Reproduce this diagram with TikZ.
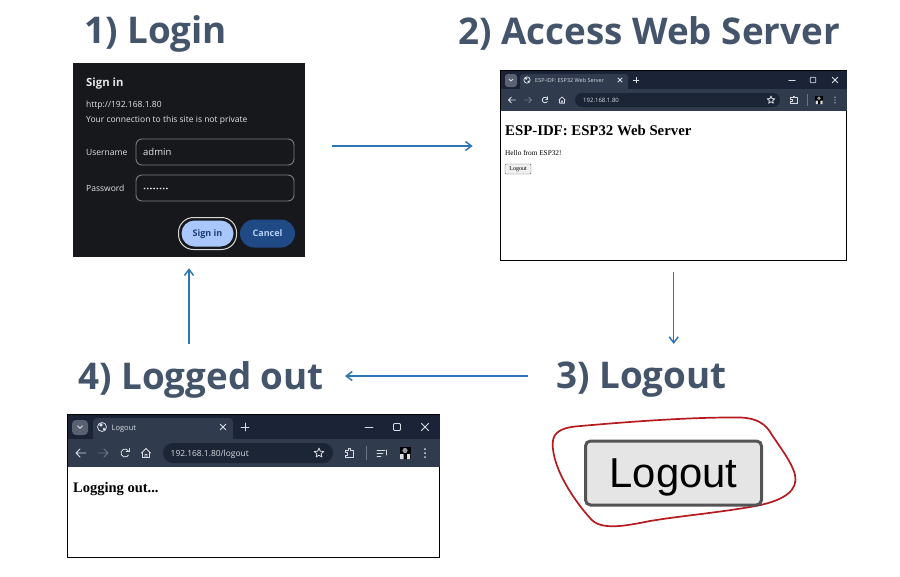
\documentclass[tikz,border=0pt]{standalone}
\usepackage{fontspec}
\setmainfont{Open Sans}
\newfontfamily\serifweb{Liberation Serif}
\newfontfamily\arialface{Liberation Sans}
\usetikzlibrary{arrows.meta}
\definecolor{titlecol}{HTML}{44546A}
\definecolor{flowcol}{HTML}{2E75B6}
\definecolor{stripcol}{HTML}{1B2436}
\definecolor{barcol}{HTML}{303B4E}
\definecolor{pillcol}{HTML}{1C2536}
\definecolor{iconcol}{HTML}{D8DCE3}
\definecolor{dimcol}{HTML}{6C7686}
\definecolor{panelcol}{HTML}{17181C}
\definecolor{edgecol}{HTML}{7A7C80}
\definecolor{loopcol}{HTML}{B51A1F}
\definecolor{signfill}{HTML}{A9C7FA}
\definecolor{signtext}{HTML}{1D3F73}
\definecolor{cancelfill}{HTML}{1F4A85}
\definecolor{canceltext}{HTML}{B8D0F5}
\tikzset{
  x=1pt,y=-1pt,
  title/.style={anchor=base west,inner sep=0pt,text=titlecol,font=\fontsize{36.8}{37}\selectfont\bfseries},
  flow/.style={draw=flowcol,line width=1.5pt,-{Straight Barb[length=6pt,width=9pt,line width=1.5pt]}},
  txt/.style={anchor=base west,inner sep=0pt},
  paneltxt/.style={txt,text=white!90!black,font=\fontsize{8.5}{9}\selectfont},
  inputbox/.style={draw=edgecol,line width=.9pt,fill=panelcol,rounded corners=6pt},
  ico/.style={draw=iconcol,line width=.8pt,fill=none,line cap=round,line join=round},
  pics/back/.style={code={\draw[ico,#1] (5,0)--(-5,0) (-1,-4)--(-5,0)--(-1,4);}},
  pics/closex/.style={code={\draw[ico,#1] (-3.5,-3.5)--(3.5,3.5) (-3.5,3.5)--(3.5,-3.5);}},
  pics/plusmark/.style={code={\draw[ico,#1] (-4,0)--(4,0) (0,-4)--(0,4);}},
  pics/minmark/.style={code={\draw[ico,#1] (-4,0)--(4,0);}},
  pics/maxmark/.style={code={\draw[ico,#1,rounded corners=1pt] (-3.5,-3.5) rectangle (3.5,3.5);}},
  pics/caret/.style={code={\draw[ico,#1] (-2.5,-1.2)--(0,1.3)--(2.5,-1.2);}},
  pics/globe/.style={code={\draw[ico,#1] (0,0) circle[radius=4.5pt]; \fill[iconcol] (-1,-2) circle[radius=1.8pt] (2,2) circle[radius=1.3pt];}},
  pics/reload/.style={code={\draw[ico,#1] (3.46,-2) arc[start angle=30,end angle=330,radius=4pt]; \draw[ico,#1] (4,-4.5)--(4,-1.5)--(1,-1.5);}},
  pics/home/.style={code={\draw[ico,#1] (-4.5,0)--(0,-4.5)--(4.5,0) (-3.5,-1)--(-3.5,4.5)--(3.5,4.5)--(3.5,-1) (-1,4.5)--(-1,1.5)--(1,1.5)--(1,4.5);}},
  pics/starmark/.style={code={\draw[ico,#1] (0,-5)--(1.3,-1.8)--(4.8,-1.5)--(2.1,.7)--(2.9,4)--(0,2.2)--(-2.9,4)--(-2.1,.7)--(-4.8,-1.5)--(-1.3,-1.8)--cycle;}},
  pics/ext/.style={code={\draw[ico,#1] (-4,-3)--(-1,-3)--(-1,-5)--(1,-5)--(1,-3)--(4,-3)--(4,4.5)--(-4,4.5)--(-4,2)--(-2,2)--(-2,-.5)--(-4,-.5)--cycle;}},
  pics/queue/.style={code={\draw[ico,#1] (-5,-3)--(3,-3) (-5,0)--(1,0) (-5,3)--(-1,3) (4,-3)--(4,2);}},
  pics/avatar/.style={code={\fill[black] (-5.5,-6) rectangle (5.5,6); \fill[iconcol!70!black] (0,-2.5) circle[radius=2.6pt]; \fill[iconcol] (-5,1) rectangle (-1.5,6) (2,1) rectangle (5,6);}},
  pics/menudots/.style={code={\fill[iconcol] (0,-4) circle[radius=1pt] (0,0) circle[radius=1pt] (0,4) circle[radius=1pt];}},
}
\begin{document}
\begin{tikzpicture}
\useasboundingbox (0,0) rectangle (900,576);
% titles
\node[title] (t1) at (84,43) {1) Login};
\node[title] (t2) at (458,44) {2) Access Web Server};
\node[title] (t3) at (556,388) {3) Logout};
\node[title] (t4) at (78,389) {4) Logged out};
\coordinate (above3) at (673.7,344);
\coordinate (left3) at (528,376);
\coordinate (right4) at (345,376);
\coordinate (above4) at (189,344);
% ---- login panel
\node[fill=panelcol,minimum width=232pt,minimum height=194pt,inner sep=0pt] (login) at (189,160) {};
\node[paneltxt,font=\fontsize{11.3}{11}\selectfont\bfseries] (signtitle) at (86,86) {Sign in};
\node[paneltxt] (url) at (86,107) {http://192.168.1.80};
\node[paneltxt] (warn) at (86,122.5) {Your connection to this site is not private};
\node[paneltxt] (userlab) at (86,155) {Username};
\node[paneltxt] (passlab) at (86,191) {Password};
\node[inputbox,minimum width=158pt,minimum height=26pt,inner sep=0pt] (userbox) at (215,152) {};
\node[inputbox,minimum width=158pt,minimum height=26pt,inner sep=0pt] (passbox) at (215,188) {};
\node[paneltxt,font=\fontsize{9.5}{10}\selectfont] (userval) at (143,155) {admin};
\foreach \i in {0,...,7} \fill[white!90!black] (144.5+\i*3.2,188.5) circle[radius=.95pt];
\node[draw=white!85!black,line width=1pt,fill=panelcol,rounded corners=15pt,minimum width=58pt,minimum height=32pt,inner sep=0pt] (signring) at (207.5,233.5) {};
\node[rounded corners=13pt,minimum width=52pt,minimum height=26pt,inner sep=0pt,fill=signfill,text=signtext,font=\fontsize{9}{9}\selectfont\bfseries,text depth=0pt,text height=5.5pt] (signbtn) at (207.5,233.5) {Sign in};
\node[rounded corners=14pt,minimum width=55pt,minimum height=28pt,inner sep=0pt,fill=cancelfill,text=canceltext,font=\fontsize{9}{9}\selectfont\bfseries,text depth=0pt,text height=5.5pt] (cancelbtn) at (267.5,233.5) {Cancel};
% ---- server browser
\node[draw=black,line width=1pt,fill=white,minimum width=346pt,minimum height=190pt,inner sep=0pt] (server) at (673.7,165.7) {};
\fill[stripcol] (501,71) rectangle (847,89);
\fill[barcol] (501,89) rectangle (847,111);
\fill[barcol,rounded corners=3pt] (520,74) rectangle (628,92);
\fill[barcol!80!white,rounded corners=3pt] (505,74) rectangle (517,87);
\fill[pillcol,rounded corners=7pt] (575,93) rectangle (780,107);
\pic[scale=.8] at (511,80) {caret};
\pic[scale=.7] at (527,80) {globe};
\node[txt,text=iconcol,font=\fontsize{5.5}{6}\selectfont] (servertab) at (535,82) {ESP-IDF: ESP32 Web Server};
\pic[scale=.6] at (620,80) {closex};
\pic[scale=.7] at (636,80) {plusmark};
\pic[scale=.8] at (792,80) {minmark};
\pic[scale=.8] at (813,80) {maxmark};
\pic[scale=.8] at (835,80) {closex};
\pic[scale=.7] at (512,100) {back};
\pic[scale=.7,xscale=-1] at (528,100) {back={draw=dimcol}};
\pic[scale=.7] at (545,100) {reload};
\pic[scale=.7] at (562,100) {home};
\node[txt,text=iconcol,font=\fontsize{6}{6}\selectfont] (serverurl) at (583,102) {192.168.1.80};
\pic[scale=.8] at (771,100) {starmark};
\pic[scale=.8] at (794,100) {ext};
\draw[dimcol,line width=.6pt] (807,94)--(807,106);
\pic[scale=.7] at (819,100) {avatar};
\pic[scale=.7] at (835,100) {menudots};
\node[txt,font=\serifweb\fontsize{14.8}{15}\selectfont\bfseries] (serverhead) at (505,135) {ESP-IDF: ESP32 Web Server};
\node[txt,font=\serifweb\fontsize{7.3}{8}\selectfont] (hello) at (505,155) {Hello from ESP32!};
\node[draw=black!60,fill=black!6,rounded corners=1pt,minimum width=26pt,minimum height=10pt,inner sep=0pt,font=\serifweb\fontsize{6}{6}\selectfont] (smallbtn) at (518,169) {Logout};
% ---- logged out browser
\node[draw=black,line width=1pt,fill=white,minimum width=372pt,minimum height=143pt,inner sep=0pt] (outwin) at (253.5,486) {};
\fill[stripcol] (68,415) rectangle (439.5,439);
\fill[barcol] (68,439) rectangle (439.5,467);
\fill[barcol,rounded corners=4pt] (93,418) rectangle (233,443);
\fill[barcol!80!white,rounded corners=4pt] (72,420) rectangle (88,435);
\fill[pillcol,rounded corners=10pt] (163,443) rectangle (333,463);
\pic at (80,427) {caret};
\pic at (102,427) {globe};
\node[txt,text=iconcol,font=\fontsize{7.5}{8}\selectfont] (outtab) at (111.5,430) {Logout};
\pic[scale=.8] at (223,427) {closex};
\pic at (245,427) {plusmark};
\pic at (369,427) {minmark};
\pic at (397,427) {maxmark};
\pic at (425,427) {closex};
\pic at (81,453) {back};
\pic[xscale=-1] at (103,453) {back={draw=dimcol}};
\pic at (125,453) {reload};
\pic at (146,453) {home};
\node[txt,text=iconcol,font=\fontsize{8.4}{9}\selectfont] (outurl) at (170.5,456) {192.168.1.80/logout};
\pic at (319,453) {starmark};
\pic at (349,453) {ext};
\draw[dimcol,line width=.6pt] (366,446)--(366,460);
\pic at (382,453) {queue};
\pic at (405,453) {avatar};
\pic at (425,453) {menudots};
\node[txt,font=\serifweb\fontsize{14.5}{15}\selectfont\bfseries] (outhead) at (73,492.5) {Logging out...};
% ---- big logout button
\draw[loopcol,line width=1.7pt] (552.7,443) .. controls (553,432) and (562,428) .. (575,426.5)
  .. controls (625,422) and (690,417) .. (740,417.5)
  .. controls (757,418) and (766,424) .. (772,435)
  .. controls (782,450) and (796,468) .. (795.5,480)
  .. controls (795,495) and (775,503) .. (750,507)
  .. controls (715,513) and (680,516) .. (650,521)
  .. controls (625,526) and (600,531) .. (590,518)
  .. controls (578,505) and (552,470) .. (552.7,443) -- cycle;
\node[draw=black!67,line width=3pt,fill=black!10,rounded corners=5pt,minimum width=176pt,minimum height=64pt,inner sep=0pt] (bigbtn) at (673.5,473) {};
\node[txt,font=\arialface\fontsize{41.8}{41}\selectfont] (biglabel) at (609.5,487) {Logout};
% ---- connectors
\draw[flow] ([shift={(27,-14)}]login.east) -- ([shift={(-27.5,-19.7)}]server.west);
\draw[flow] ([yshift=-11]server.south) -- (above3);
\draw[flow] (left3) -- (right4);
\draw[flow] (above4) -- ([yshift=-11]login.south);
\end{tikzpicture}
\end{document}
